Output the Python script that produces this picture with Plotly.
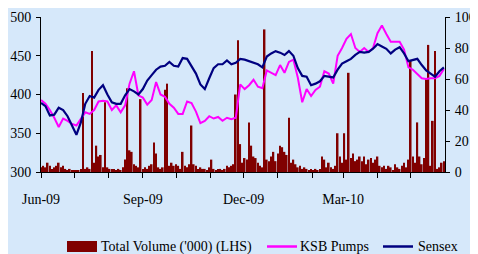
import plotly.graph_objects as go
import pandas as pd

START = "2009-06-01"

# Line series sampled every 4 calendar days from 1-Jun-2009 (left axis, 300-500)
ksb_pumps = [393, 388, 380, 370, 358, 369, 366, 362, 360, 369,
             377, 375, 380, 391, 392, 391, 380, 386, 377, 386,
             414, 430, 399, 396, 387, 393, 416, 400, 397, 388,
             383, 375, 375, 391, 389, 378, 363, 366, 372, 369,
             371, 366, 370, 368, 370, 413, 407, 412, 419, 410,
             408, 431, 428, 425, 438, 428, 442, 445, 422, 390,
             407, 398, 406, 410, 430, 427, 414, 450, 460, 472,
             478, 460, 455, 460, 455, 460, 479, 489, 478, 468,
             468, 468, 458, 435, 432, 426, 421, 420, 421, 421,
             424, 433]

sensex = [389, 385, 373, 374, 383, 380, 372, 360, 348, 364,
          388, 398, 396, 406, 412, 400, 390, 388, 388, 399,
          407, 404, 400, 407, 418, 425, 432, 436, 437, 442,
          437, 436, 447, 446, 437, 427, 413, 407, 421, 434,
          439, 439, 444, 439, 441, 446, 445, 443, 441, 439,
          435, 449, 453, 456, 454, 451, 456, 450, 434, 424,
          423, 412, 414, 417, 424, 423, 422, 432, 440, 443,
          446, 451, 455, 454, 455, 459, 465, 462, 459, 453,
          458, 461, 453, 443, 445, 446, 438, 431, 427, 423,
          430, 435]

# Volume ('000) sampled every 2 calendar days from 1-Jun-2009 (right axis, 0-100)
volume = [3, 4, 3, 6, 4, 2, 3, 4, 6, 3,
          4, 2, 1, 2, 1, 1, 1, 1, 2, 51,
          2, 3, 2, 78, 6, 17, 10, 11, 3, 45,
          3, 2, 2, 2, 1, 2, 1, 3, 8, 54,
          14, 13, 5, 4, 3, 47, 2, 3, 2, 4,
          5, 19, 12, 3, 2, 3, 53, 57, 4, 6,
          4, 5, 4, 2, 13, 4, 3, 5, 30, 5,
          4, 2, 3, 2, 2, 1, 3, 8, 2, 1,
          2, 2, 1, 2, 4, 3, 4, 5, 50, 85,
          18, 6, 9, 8, 32, 17, 10, 9, 6, 4,
          3, 92, 8, 7, 10, 13, 7, 12, 17, 16,
          13, 11, 35, 6, 8, 5, 3, 4, 2, 3,
          2, 1, 2, 1, 2, 1, 2, 10, 8, 3,
          6, 3, 2, 4, 25, 10, 6, 25, 8, 64,
          9, 12, 7, 8, 10, 7, 10, 5, 8, 9,
          6, 8, 10, 4, 3, 4, 2, 4, 3, 1,
          5, 3, 2, 4, 6, 3, 8, 72, 10, 6,
          32, 10, 5, 9, 60, 82, 4, 33, 78, 2,
          3, 6, 7]

tick_months = ["2009-06-01", "2009-07-01", "2009-08-01", "2009-09-01",
               "2009-10-01", "2009-11-01", "2009-12-01", "2010-01-01",
               "2010-02-01", "2010-03-01", "2010-04-01", "2010-05-01"]
tick_labels = ["Jun-09", "", "", "Sep-09", "", "", "Dec-09", "", "",
               "Mar-10", "", ""]

series_names = ["Total Volume ('000) (LHS)", "KSB Pumps", "Sensex"]
series_colors = ["#800000", "#FF00FF", "#000080"]

line_dates = pd.date_range(START, periods=len(ksb_pumps), freq="4D")
vol_dates = pd.date_range(START, periods=len(volume), freq="2D")

FONT = "Liberation Serif"
BG = "#D6E8FA"
DAY_MS = 86400000

fig = go.Figure()
fig.add_trace(go.Bar(
    x=vol_dates, y=volume, name=series_names[0],
    marker=dict(color=series_colors[0], line=dict(width=0)),
    width=1.5 * DAY_MS, yaxis="y", showlegend=False))
fig.add_trace(go.Scatter(
    x=line_dates, y=ksb_pumps, name=series_names[1], mode="lines",
    line=dict(color=series_colors[1], width=2), yaxis="y2", showlegend=False))
fig.add_trace(go.Scatter(
    x=line_dates, y=sensex, name=series_names[2], mode="lines",
    line=dict(color=series_colors[2], width=2.2), yaxis="y2", showlegend=False))

axis_common = dict(showgrid=False, zeroline=False, showline=True,
                   linecolor="#000000", linewidth=1, ticks="outside",
                   tickcolor="#000000", tickwidth=1, automargin=False,
                   tickfont=dict(family=FONT, size=14, color="#000000"))

# Page is offset by the default 8px body margin; target plot area in
# window pixels: x 41..445, y 17..172 (window 478x254)
OFF = 8
WIN_W, WIN_H = 478, 254
FIG_W, FIG_H = WIN_W - OFF, WIN_H - OFF
L, R, T, B = 41, 445, 17, 172
PW, PH = R - L, B - T


def px_x(p):
    return (p - L) / PW


def px_y(p):
    return (B - p) / PH


# Manual legend below the plot (boxes + text)
leg_y = 246.5
shapes = [
    dict(type="rect", xref="paper", yref="paper",
         x0=px_x(67), x1=px_x(97), y0=px_y(252), y1=px_y(241),
         fillcolor=series_colors[0], line=dict(width=0)),
    dict(type="line", xref="paper", yref="paper",
         x0=px_x(267), x1=px_x(297), y0=px_y(leg_y), y1=px_y(leg_y),
         line=dict(color=series_colors[1], width=2.5)),
    dict(type="line", xref="paper", yref="paper",
         x0=px_x(383), x1=px_x(413), y0=px_y(leg_y), y1=px_y(leg_y),
         line=dict(color=series_colors[2], width=2.5)),
]
annotations = []
for name, xpix in zip(series_names, [99, 298, 416]):
    annotations.append(dict(
        text=name, xref="paper", yref="paper", x=px_x(xpix), y=px_y(leg_y),
        xanchor="left", yanchor="middle", showarrow=False,
        font=dict(family=FONT, size=14, color="#000000")))

fig.update_layout(
    width=FIG_W, height=FIG_H, autosize=False,
    margin=dict(l=L - OFF, r=WIN_W - R, t=T - OFF, b=WIN_H - B, pad=0),
    paper_bgcolor=BG, plot_bgcolor=BG,
    font=dict(family=FONT, size=14, color="#000000"),
    xaxis=dict(type="date", range=["2009-06-01", "2010-06-01"],
               tickmode="array", tickvals=tick_months, ticktext=tick_labels,
               ticklen=5, ticklabelstandoff=9, **axis_common),
    yaxis=dict(side="right", range=[0, 100], dtick=20, ticklen=4,
               ticklabelstandoff=2, **axis_common),
    yaxis2=dict(side="left", overlaying="y", range=[300, 500], dtick=50,
                ticklen=4, ticklabelstandoff=2, **axis_common),
    showlegend=False,
    shapes=shapes,
    annotations=annotations,
)

fig.write_html("out.html")
